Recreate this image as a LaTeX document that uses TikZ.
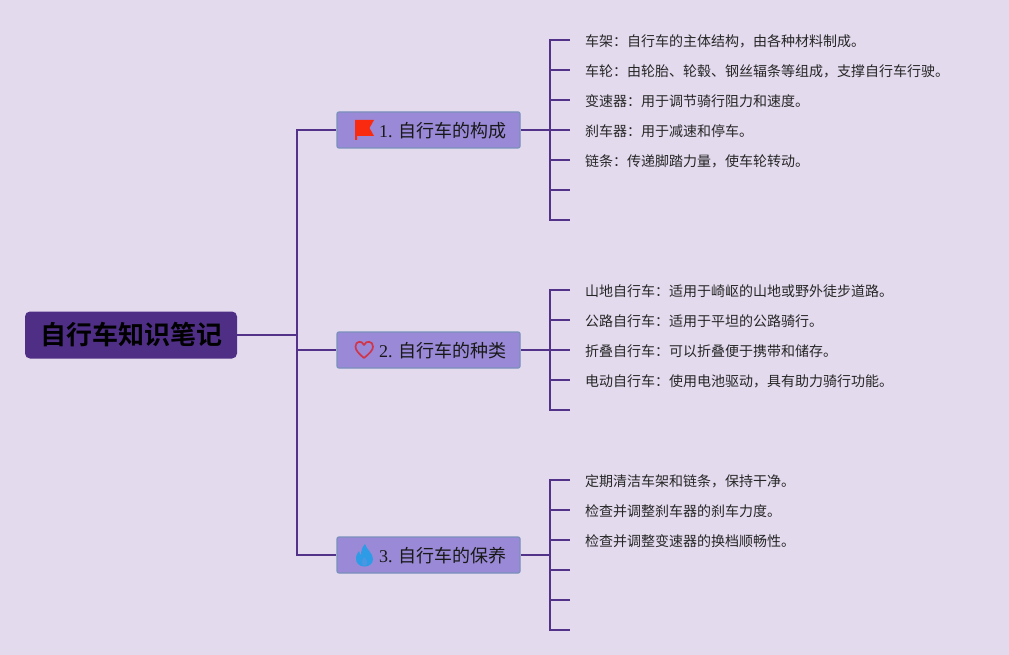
\documentclass[tikz,border=0pt]{standalone}
\usepackage{fontspec}
\setmainfont{Liberation Serif}
\newfontfamily\cjk{Noto Sans CJK SC}
\newfontfamily\cjkb{Noto Sans CJK SC Bold}
\newcommand\zhcolon{^^^^ff1a}
\newcommand\zhcomma{^^^^ff0c}
\definecolor{bgc}{HTML}{E3DAEE}
\definecolor{linec}{HTML}{533389}
\definecolor{rootc}{HTML}{4F2F85}
\definecolor{topicc}{HTML}{9A89D6}
\definecolor{topicb}{HTML}{7B90BC}
\definecolor{flagc}{HTML}{F92A0F}
\definecolor{heartc}{HTML}{D0364A}
\definecolor{flamec}{HTML}{2E9BE6}
\tikzset{
  link/.style={draw=linec,line width=2pt},
  rootbox/.style={fill=rootc,rounded corners=5pt,minimum width=212pt,minimum height=47pt,inner sep=0pt,text=black,font=\cjkb\fontsize{26}{30}\selectfont},
  topicbox/.style={fill=topicc,draw=topicb,line width=1.3pt,rounded corners=2pt,minimum width=183pt,minimum height=36pt,inner sep=0pt},
  topiclabel/.style={anchor=base west,inner sep=0pt,text=black!90,font=\fontsize{18}{22}\selectfont},
  leaf/.style={anchor=base west,inner sep=0pt,text=black!85,font=\cjk\fontsize{14}{18}\selectfont},
}
\begin{document}
\begin{tikzpicture}[x=1pt,y=-1pt]
\useasboundingbox[fill=bgc] (0,0) rectangle (1009,655);
\node[rootbox] (root) at (131,335) {自行车知识笔记};
\node[topicbox] (t1) at (428.5,130) {};
\node[topicbox] (t2) at (428.5,350) {};
\node[topicbox] (t3) at (428.5,555) {};
\node[topiclabel] (l1) at (379,137.6) {1. {\cjk 自行车的构成}};
\node[topiclabel] (l2) at (379,357.6) {2. {\cjk 自行车的种类}};
\node[topiclabel] (l3) at (379,562.6) {3. {\cjk 自行车的保养}};
% flag
\fill[flagc] (355,120) -- (374,120) -- (369.5,128) -- (374,136) -- (357,136) -- (357,140) -- (355,140) -- cycle;
% heart
\draw[heartc,line width=1.7pt,line join=round] (364,358) .. controls (358,353) and (355.5,350) .. (355.5,346.5) .. controls (355.5,341) and (362,340) .. (364,345) .. controls (366,340) and (373,341) .. (373,346.5) .. controls (373,350) and (370,353) .. (364,358) -- cycle;
% flame
\fill[flamec] (365,544) .. controls (366,549) and (373,553) .. (373,559) .. controls (373,564) and (369,566.5) .. (364.5,566.5) .. controls (359,566.5) and (356,563) .. (356,558.5) .. controls (356,555) and (358,552.5) .. (359,551) .. controls (359.5,553) and (360,554.5) .. (361,555) .. controls (361,551) and (362,547) .. (365,544) -- cycle;
\fill[flamec!75!topicc] (364.5,566) .. controls (361,565) and (360.5,561) .. (364.5,557) .. controls (368,561) and (368,565) .. (364.5,566) -- cycle;
% spine
\coordinate (sr) at (297,335);
\coordinate (s1) at (297,130);
\coordinate (s2) at (297,350);
\coordinate (s3) at (297,555);
\draw[link] (root.east) -- (sr);
\draw[link] (t1.west) -- (s1) -- (s3) -- (t3.west);
\draw[link] (s2) -- (t2.west);
% group 1
\foreach \n/\y in {a/40,b/70,c/100,d/130,e/160,f/190,g/220}{
  \coordinate (b1\n) at (550,\y);
  \coordinate (e1\n) at (570,\y);
  \draw[link] (b1\n) -- (e1\n);
}
\draw[link,line cap=rect] (b1a) -- (b1g);
\coordinate (j1) at (550,130);
\draw[link] (t1.east) -- (j1);
\node[leaf] (n1a) at (585,46.6) {车架\zhcolon{}自行车的主体结构\zhcomma{}由各种材料制成。};
\node[leaf] (n1b) at (585,76.6) {车轮\zhcolon{}由轮胎、轮毂、钢丝辐条等组成\zhcomma{}支撑自行车行驶。};
\node[leaf] (n1c) at (585,106.6) {变速器\zhcolon{}用于调节骑行阻力和速度。};
\node[leaf] (n1d) at (585,136.6) {刹车器\zhcolon{}用于减速和停车。};
\node[leaf] (n1e) at (585,166.6) {链条\zhcolon{}传递脚踏力量\zhcomma{}使车轮转动。};
% group 2
\foreach \n/\y in {a/290,b/320,c/350,d/380,e/410}{
  \coordinate (b2\n) at (550,\y);
  \coordinate (e2\n) at (570,\y);
  \draw[link] (b2\n) -- (e2\n);
}
\draw[link,line cap=rect] (b2a) -- (b2e);
\coordinate (j2) at (550,350);
\draw[link] (t2.east) -- (j2);
\node[leaf] (n2a) at (585,296.6) {山地自行车\zhcolon{}适用于崎岖的山地或野外徒步道路。};
\node[leaf] (n2b) at (585,326.6) {公路自行车\zhcolon{}适用于平坦的公路骑行。};
\node[leaf] (n2c) at (585,356.6) {折叠自行车\zhcolon{}可以折叠便于携带和储存。};
\node[leaf] (n2d) at (585,386.6) {电动自行车\zhcolon{}使用电池驱动\zhcomma{}具有助力骑行功能。};
% group 3
\foreach \n/\y in {a/480,b/510,c/540,d/570,e/600,f/630}{
  \coordinate (b3\n) at (550,\y);
  \coordinate (e3\n) at (570,\y);
  \draw[link] (b3\n) -- (e3\n);
}
\draw[link,line cap=rect] (b3a) -- (b3f);
\coordinate (j3) at (550,555);
\draw[link] (t3.east) -- (j3);
\node[leaf] (n3a) at (585,486.6) {定期清洁车架和链条\zhcomma{}保持干净。};
\node[leaf] (n3b) at (585,516.6) {检查并调整刹车器的刹车力度。};
\node[leaf] (n3c) at (585,546.6) {检查并调整变速器的换档顺畅性。};
\end{tikzpicture}
\end{document}
